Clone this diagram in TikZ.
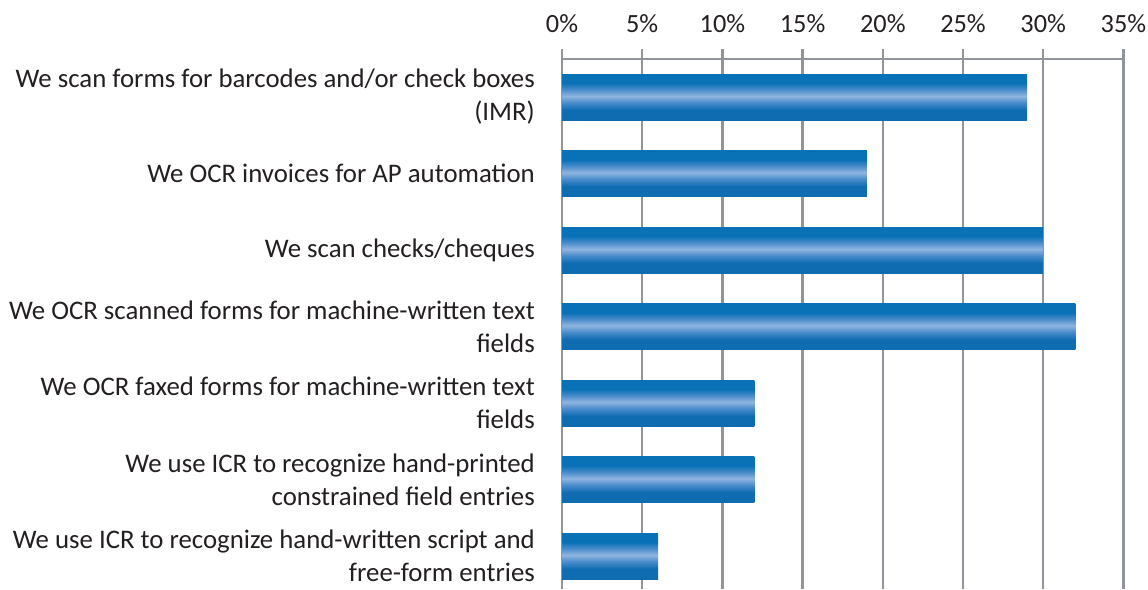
\documentclass[tikz,border=0pt]{standalone}
\usepackage{fontspec}
\setmainfont{Carlito}
\definecolor{txt}{HTML}{231F20}
\definecolor{gridgray}{HTML}{8F959B}
\definecolor{bartop}{HTML}{0971B6}
\definecolor{barbot}{HTML}{0F6CB1}
\definecolor{barmid}{HTML}{4A8CCB}
\definecolor{barlight}{HTML}{8FB5DF}
% bar fill: flat dark blue at top and bottom, pale band across the middle
\pgfdeclareverticalshading{barshade}{100bp}{%
  color(0bp)=(barbot); color(25bp)=(barbot); color(36bp)=(barbot);
  color(44bp)=(barmid); color(51bp)=(barlight); color(58bp)=(barmid);
  color(65bp)=(bartop); color(75bp)=(bartop); color(100bp)=(bartop)}
\begin{document}
\begin{tikzpicture}[x=1pt,y=-1pt,
  font=\fontsize{26.8}{33}\selectfont,
  gridline/.style={draw=gridgray,line width=2.4pt},
  ticklabel/.style={text=txt,inner sep=0pt,anchor=base,font=\fontsize{26.3}{32}\selectfont},
  catlabel/.style={text=txt,inner sep=0pt,anchor=east,align=right},
  barbox/.style={shading=barshade}]
\useasboundingbox (0,0) rectangle (1148,589);
% value axis: gridlines, ticks and percentage labels
\foreach \i in {0,...,7}{
  \pgfmathsetmacro{\gx}{562+80.2*\i}
  \pgfmathtruncatemacro{\pct}{5*\i}
  \draw[gridline] (\gx,49) -- (\gx,589);
  \node[ticklabel] (tick\i) at (\gx,32) {\pct\%};
}
\draw[gridline] (562,59) -- (1123.4,59);
% bars
\foreach \v [count=\k from 0] in {29,19,30,32,12,12,6}{
  \shade[barbox] (562,74+76.5*\k) rectangle (562+16.04*\v,120+76.5*\k);
}
% category labels
\node[catlabel] (c1) at (535,97) {We scan forms for barcodes and/or check boxes\\(IMR)};
\node[catlabel] (c2) at (535,173.5) {We OCR invoices for AP automation};
\node[catlabel] (c3) at (535,250) {We scan checks/cheques};
\node[catlabel] (c4) at (535,326.5) {We OCR scanned forms for machine-written text\\fields};
\node[catlabel] (c5) at (535,403) {We OCR faxed forms for machine-written text\\fields};
\node[catlabel] (c6) at (535,479.5) {We use ICR to recognize hand-printed\\constrained field entries};
\node[catlabel] (c7) at (535,556) {We use ICR to recognize hand-written script and\\free-form entries};
\end{tikzpicture}
\end{document}
